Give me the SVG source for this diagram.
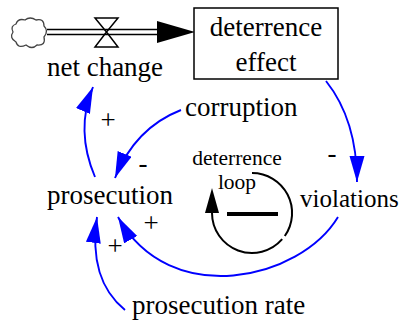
<svg xmlns="http://www.w3.org/2000/svg" width="400" height="320" viewBox="0 0 400 320">
<style>
.t{font-family:Liberation Serif, serif;font-size:27px;fill:#000}
.small{font-size:21.5px}
.mid{text-anchor:middle}
.link{fill:none;stroke:#0000ff;stroke-width:1.9;marker-end:url(#ba)}
.blk{fill:none;stroke:#000;stroke-width:2}
</style>
<defs>
<marker id="ba" markerUnits="userSpaceOnUse" markerWidth="28" markerHeight="16" viewBox="0 0 28 16" refX="26" refY="7.5" orient="auto">
<path d="M0,0 L26,7.5 L0,15 Z" fill="#0000ff"/>
</marker>
</defs>
<rect width="400" height="320" fill="#fff"/>
<g id="cloud">
<path d="M16 24 Q18 18 25 20 Q30 16 36 20 Q44 18 44 26 Q49 31 44 37 Q46 46 37 45 Q32 50 26 45 Q18 49 16 42 Q9 38 13 32 Q10 26 16 24 Z" fill="#fff" stroke="#444" stroke-width="1.3"/>
</g>

<g id="net-change">
<line x1="47" y1="29.5" x2="158" y2="29.5" stroke="#000" stroke-width="1.6"/>
<line x1="47" y1="34.5" x2="158" y2="34.5" stroke="#000" stroke-width="1.6"/>
<polygon points="95,18 118,18 106.5,32 118,47 95,47 106.5,32" fill="none" stroke="#000" stroke-width="1.5"/>
<polygon points="157,21 195,32 157,43" fill="#000"/>
<text x="105" y="76" class="t mid" font-family="Liberation Serif, serif">net change</text>
</g>

<g id="deterrence-effect">
<rect x="194" y="8" width="144" height="71" fill="#fff" stroke="#000" stroke-width="1.5"/>
<text x="266" y="36" class="t mid" font-family="Liberation Serif, serif">deterrence</text>
<text x="266" y="71" class="t mid" font-family="Liberation Serif, serif">effect</text>
</g>

<g id="corruption"><text x="185" y="116" class="t" font-family="Liberation Serif, serif">corruption</text></g>
<g id="prosecution"><text x="110" y="204" class="t mid" font-family="Liberation Serif, serif">prosecution</text></g>
<g id="violations"><text x="300" y="207" class="t" font-family="Liberation Serif, serif" style="font-size:25px">violations</text></g>
<g id="prosecution-rate"><text x="132" y="314" class="t" font-family="Liberation Serif, serif">prosecution rate</text></g>

<g id="deterrence-loop">
<text x="237" y="165" class="t small mid" font-family="Liberation Serif, serif">deterrence</text>
<text x="237" y="189" class="t small mid" font-family="Liberation Serif, serif">loop</text>
<path class="blk" d="M252 173 A40 40 0 0 1 284.8 236"/>
<path class="blk" d="M282.2 239.2 A40 40 0 0 1 212 213"/>
<polygon points="212,188 219,213 205,213" fill="#000"/>
<line x1="227" y1="214" x2="278" y2="214" stroke="#000" stroke-width="4"/>
</g>

<g id="connectors">
<path class="link" d="M326 81 Q357 120 357 182"/>
<path class="link" d="M181 110 Q135 128 115 178"/>
<path class="link" d="M95 177 Q75 130 93 87"/>
<path class="link" d="M338 217 C300 280 170 310 118 217"/>
<path class="link" d="M125 310 Q88 280 97 217"/>
<text x="108" y="129" class="t mid" font-family="Liberation Serif, serif">+</text>
<text x="143" y="172" class="t mid" font-family="Liberation Serif, serif">-</text>
<text x="332" y="162" class="t mid" font-family="Liberation Serif, serif">-</text>
<text x="151" y="232" class="t mid" font-family="Liberation Serif, serif">+</text>
<text x="115" y="255" class="t mid" font-family="Liberation Serif, serif">+</text>
</g>
</svg>
